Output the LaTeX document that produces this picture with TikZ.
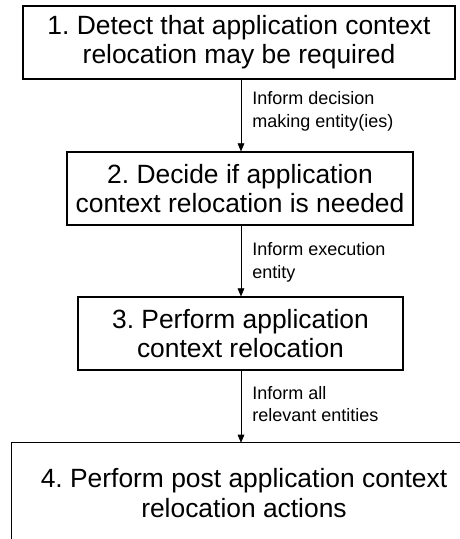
\documentclass[tikz,border=0pt]{standalone}
\usepackage{fontspec}
\setmainfont{Liberation Sans}
\frenchspacing
\usetikzlibrary{arrows.meta}

\begin{document}
\begin{tikzpicture}[x=0.75pt, y=-0.75pt, >={Triangle[length=6pt,width=5pt]},
  stepbox/.style={draw, line width=0.9pt, align=center, inner sep=0pt, font=\fontsize{19.8}{22}\selectfont},
  infolabel/.style={right, align=left, inner sep=0pt, xshift=8.25pt, font=\fontsize{13.5}{17}\selectfont}]
\useasboundingbox (0,0) rectangle (460,539);

% relocation steps
\node[stepbox, minimum width=324pt, minimum height=54.75pt] (detect) at (239,42.5) {1. Detect that application context\\relocation may be required};
\node[stepbox, minimum width=259.5pt, minimum height=54.75pt] (decide) at (240,188.5) {2. Decide if application\\context relocation is needed};
\node[stepbox, minimum width=243.75pt, minimum height=54.75pt] (perform) at (240.5,333.5) {3. Perform application\\context relocation};
\node[stepbox, draw=none, minimum width=336pt, minimum height=76pt] (post) at (236,494) {};
\node[stepbox, draw=none] (posttext) at (244,493) {4. Perform post application context\\relocation actions};
% last box runs off the page: only its top and left sides show
\draw[line width=0.9pt] (post.south west) |- (post.north east);

% flow between steps
\coordinate (ax) at (241,0);
\draw[->] (detect.south -| ax) -- node[infolabel, yshift=3pt] {Inform decision\\making entity(ies)} (decide.north -| ax);
\draw[->] (decide.south -| ax) -- node[infolabel, yshift=-1pt] {Inform execution\\entity} (perform.north -| ax);
\draw[->] (perform.south -| ax) -- node[infolabel, yshift=2pt] {Inform all\\relevant entities} (post.north -| ax);
\end{tikzpicture}
\end{document}
